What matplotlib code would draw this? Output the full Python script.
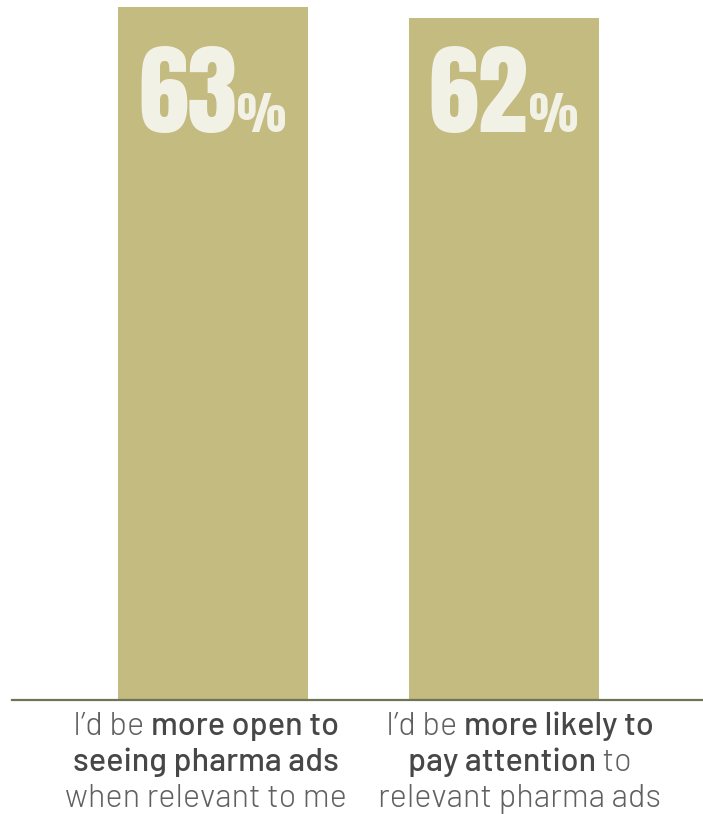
import matplotlib
matplotlib.use("Agg")
import matplotlib.pyplot as plt
from matplotlib import font_manager
from matplotlib.font_manager import FontProperties
from matplotlib.textpath import TextPath
from matplotlib.transforms import IdentityTransform

# data
categories = ["more open", "more likely"]
values = [63, 62]
value_labels = ["63", "62"]
label_lines = [
    [[("I\u2019d be ", "light"), ("more open to", "bold")],
     [("seeing pharma ads", "bold")],
     [("when relevant to me", "light")]],
    [[("I\u2019d be ", "light"), ("more likely to", "bold")],
     [("pay attention", "bold"), (" to", "light")],
     [("relevant pharma ads", "light")]],
]

BAR = "#c3bb80"
NUM = "#f2f1e6"
AXIS = "#6e7556"
TXT_LIGHT = "#606060"
TXT_BOLD = "#474747"

names = {f.name for f in font_manager.fontManager.ttflist}
NUM_FONT = next((n for n in ["Anton", "Bebas Neue", "Oswald", "Barlow Condensed"] if n in names), "DejaVu Sans")
LAB_FONT = next((n for n in ["Barlow", "Barlow Semi Condensed", "Roboto"] if n in names), "DejaVu Sans")
WEIGHTS = {"light": 300, "bold": 500}

W, H = 703, 814
fig = plt.figure(figsize=(W / 100, H / 100), dpi=100)
ax = fig.add_axes([12 / W, 114 / H, 691 / W, 700 / H])
x = list(range(len(values)))
ax.bar(x, values, width=0.653, color=BAR)
ax.set_xlim(-0.691, 1.684)
ax.set_ylim(0, 63.64)
for s in ["top", "left", "right"]:
    ax.spines[s].set_visible(False)
ax.spines["bottom"].set_color(AXIS)
ax.spines["bottom"].set_linewidth(1.6)
ax.set_xticks([])
ax.set_yticks([])

renderer = fig.canvas.get_renderer()


def ink(s, family, weight, fs):
    # ink bbox in pixels (relative to text origin) at font size fs
    fp = FontProperties(family=family, weight=weight)
    b = TextPath((0, 0), s, size=100, prop=fp).get_extents()
    k = fs / 72
    return b.x0 * k, b.y0 * k, b.x1 * k, b.y1 * k


def fit_size(s, family, weight, px, axis="h"):
    x0, y0, x1, y1 = ink(s, family, weight, 72)
    return px * 72 / ((y1 - y0) if axis == "h" else (x1 - x0))


# percentages inside the bars
fs_num = fit_size("63", NUM_FONT, "normal", 88)
fs_pct = fit_size("%", NUM_FONT, "normal", 47, axis="w")
for i, lab in enumerate(value_labels):
    cx = ax.transData.transform((x[i], 0))[0]
    a = ink(lab, NUM_FONT, "normal", fs_num)
    p = ink("%", NUM_FONT, "normal", fs_pct)
    gap = 3
    total = (a[2] - a[0]) + gap + (p[2] - p[0])
    left = cx - total / 2
    base = H - 132
    fig.text(left - a[0], base, lab, transform=IdentityTransform(), fontsize=fs_num,
             family=NUM_FONT, color=NUM, va="baseline", ha="left")
    pl = left + (a[2] - a[0]) + gap
    fig.text(pl - p[0], base, "%", transform=IdentityTransform(), fontsize=fs_pct,
             family=NUM_FONT, color=NUM, va="baseline", ha="left")


def draw_runs(runs, cx, y, fs):
    placed = []
    total = 0
    for s, w in runs:
        t = fig.text(0, 0, s, transform=IdentityTransform(), fontsize=fs,
                     fontweight=WEIGHTS[w], color=TXT_BOLD if w == "bold" else TXT_LIGHT,
                     family=LAB_FONT, va="baseline", ha="left")
        wid = t.get_window_extent(renderer).width
        placed.append((t, wid))
        total += wid
    xx = cx - total / 2
    for t, wid in placed:
        t.set_position((xx, y))
        xx += wid


# category labels under the axis
fs_lab = fit_size("when relevant to me", LAB_FONT, WEIGHTS["light"], 278, axis="w")
label_cx = [206, 520]
for i, lines in enumerate(label_lines):
    for j, line in enumerate(lines):
        draw_runs(line, label_cx[i], H - (735 + 36 * j), fs_lab)

fig.savefig("out.png", dpi=100)
